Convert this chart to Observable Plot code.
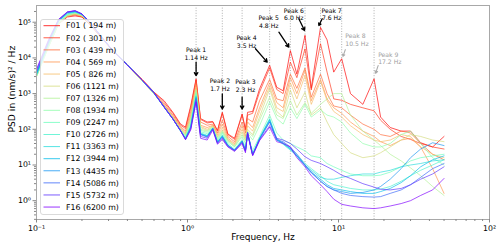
<!DOCTYPE html>
<html><head><meta charset="utf-8">
<script src="https://cdn.jsdelivr.net/npm/d3@7"></script>
<script src="https://cdn.jsdelivr.net/npm/@observablehq/plot@0.6"></script>
<style>
body{margin:0;background:#fff;}
#wrap{position:relative;width:500px;height:248px;font-family:"DejaVu Sans",sans-serif;}
#legend{position:absolute;left:40px;top:19px;}
</style>
</head><body><div id="wrap"></div>
<script>
// ---------- data ----------
const freq = [0.1, 0.12, 0.14, 0.16, 0.18, 0.2, 0.23, 0.27, 0.32, 0.4, 0.5, 0.6, 0.7, 0.8, 0.9, 0.97, 1.05,
  1.14, 1.22, 1.35, 1.47, 1.58, 1.7, 1.85, 2.05, 2.3, 2.42, 2.5, 2.7, 3.0,
  3.5, 3.9, 4.3, 4.8, 5.3, 6.0, 6.6, 7.6, 8.4, 9.3, 10.5,
  12, 14.5, 17.2, 19, 22, 26, 30, 35, 42, 50];

const stations = ["F01","F02","F03","F04","F05","F06","F07","F08","F09","F10","F11","F12","F13","F14","F15","F16"];
const distances = [194, 301, 439, 569, 826, 1121, 1326, 1934, 2247, 2726, 3363, 3944, 4435, 5086, 5732, 6200];

const F01 = [3.5e3, 2.2e4, 8.9e4, 1.4e5, 1.5e5, 1.4e5, 7.9e4, 3.6e4, 1.6e4, 6.3e3, 2.5e3, 1.1e3, 630, 300, 140, 115, 450,
  2.6e3, 200, 160, 165, 93, 300, 74, 56, 270, 100, 300, 316, 1.35e3,
  6.2e3, 1.5e3, 1.2e3, 1.6e4, 3.5e3, 4.3e4, 1.4e3, 7.2e4, 3.2e4, 4.0e3, 9.5e3,
  1.0e3, 500, 2.6e3, 220, 112, 89, 89, 42, 32, 63];
const F02 = [3.5e3, 2.4e4, 9.5e4, 1.45e5, 1.6e5, 1.4e5, 7.9e4, 3.6e4, 1.6e4, 6.3e3, 2.5e3, 1.1e3, 560, 280, 130, 105, 400,
  2.4e3, 190, 150, 160, 89, 280, 71, 52, 250, 95, 250, 280, 1.1e3,
  5.2e3, 1.3e3, 1.0e3, 7.6e3, 2.8e3, 1.8e4, 1.26e3, 2.5e4, 4.0e3, 710, 650,
  500, 400, 330, 180, 100, 63, 52, 40, 32, 28];
const F03 = [3.3e3, 2.2e4, 9.3e4, 1.5e5, 1.65e5, 1.45e5, 8.3e4, 3.7e4, 1.6e4, 6.2e3, 2.4e3, 1.05e3, 500, 250, 120, 89, 316,
  2.0e3, 160, 130, 140, 79, 180, 63, 45, 160, 79, 200, 160, 630,
  2.5e3, 710, 630, 3.5e3, 1.4e3, 5.2e3, 790, 3.5e3, 1.0e3, 450, 400,
  250, 140, 100, 71, 63, 89, 79, 40, 20, 14];
const F04 = [3.2e3, 2.1e4, 9.1e4, 1.5e5, 1.7e5, 1.5e5, 8.5e4, 3.8e4, 1.6e4, 6.2e3, 2.3e3, 1.0e3, 470, 230, 110, 79, 250,
  1.7e3, 130, 112, 130, 71, 140, 56, 40, 126, 63, 160, 112, 400,
  2.0e3, 560, 400, 2.8e3, 1.0e3, 4.5e3, 630, 2.5e3, 710, 400, 280,
  160, 89, 63, 45, 35, 50, 56, 32, 7.9, 1.6];
const F05 = [3.2e3, 2.1e4, 9.1e4, 1.5e5, 1.7e5, 1.5e5, 8.5e4, 3.8e4, 1.6e4, 6.2e3, 2.3e3, 1.0e3, 460, 220, 105, 74, 220,
  1.5e3, 120, 100, 126, 63, 112, 52, 37, 100, 56, 126, 89, 316,
  1.6e3, 400, 316, 2.0e3, 710, 3.2e3, 500, 2.2e3, 630, 316, 220,
  126, 71, 50, 45, 50, 71, 63, 32, 20, 16];
const F06 = [3.0e3, 2.0e4, 8.9e4, 1.5e5, 1.7e5, 1.5e5, 8.5e4, 3.8e4, 1.6e4, 6.3e3, 2.3e3, 1.0e3, 450, 210, 100, 71, 200,
  1.3e3, 112, 93, 120, 60, 95, 50, 35, 83, 50, 100, 71, 220,
  1.35e3, 316, 220, 1.26e3, 400, 1.1e3, 250, 400, 160, 71, 40,
  22, 16, 18, 22, 32, 50, 71, 63, 50, 45];
const F07 = [3.0e3, 2.0e4, 8.9e4, 1.55e5, 1.8e5, 1.55e5, 8.7e4, 3.8e4, 1.6e4, 6.3e3, 2.3e3, 1.0e3, 440, 210, 98, 68, 180,
  1.26e3, 100, 89, 115, 56, 89, 48, 33, 71, 48, 89, 63, 180,
  790, 250, 200, 630, 250, 560, 280, 500, 710, 1.0e3, 1.0e3,
  250, 89, 50, 35, 20, 13, 8.3, 5.0, 2.5, 1.4];
const F08 = [3.0e3, 2.0e4, 9.1e4, 1.6e5, 1.8e5, 1.6e5, 8.9e4, 3.9e4, 1.6e4, 6.3e3, 2.3e3, 1.0e3, 430, 200, 95, 65, 160,
  1.1e3, 93, 83, 112, 52, 83, 45, 32, 63, 40, 79, 50, 126,
  580, 200, 140, 400, 200, 500, 220, 350, 250, 220, 160,
  79, 40, 32, 32, 40, 71, 89, 40, 16, 10];
const F09 = [3.2e3, 2.2e4, 1.0e5, 1.65e5, 1.9e5, 1.6e5, 8.9e4, 3.9e4, 1.6e4, 6.3e3, 2.4e3, 1.0e3, 420, 200, 93, 60, 140,
  1.0e3, 85, 76, 107, 48, 76, 40, 28, 52, 32, 71, 25, 63,
  250, 79, 50, 40, 32, 25, 18, 16, 11, 8.9, 7.1,
  5.6, 5.0, 5.0, 5.2, 6.3, 8.9, 13, 16, 18, 20];
const F10 = [3.3e3, 2.4e4, 1.05e5, 1.7e5, 1.9e5, 1.65e5, 8.9e4, 3.8e4, 1.6e4, 6.3e3, 2.4e3, 1.05e3, 420, 195, 91, 56, 126,
  890, 79, 68, 105, 45, 68, 37, 26, 48, 26, 71, 20, 56,
  200, 56, 40, 28, 20, 11, 7.9, 5.0, 3.5, 2.8, 2.5,
  2.2, 2.0, 2.0, 2.1, 2.5, 3.5, 5.0, 7.1, 10, 14];
const F11 = [3.4e3, 2.5e4, 1.07e5, 1.8e5, 1.95e5, 1.65e5, 9.1e4, 3.8e4, 1.6e4, 6.3e3, 2.4e3, 1.05e3, 420, 195, 89, 55, 120,
  850, 76, 66, 105, 44, 66, 36, 26, 47, 26, 76, 20, 56,
  190, 52, 38, 26, 18, 10, 7.1, 4.5, 4.0, 4.0, 4.5,
  5.0, 5.6, 5.6, 6.3, 7.1, 8.9, 10, 11, 13, 14];
const F12 = [3.5e3, 2.6e4, 1.1e5, 1.8e5, 2.0e5, 1.7e5, 9.1e4, 3.8e4, 1.6e4, 6.3e3, 2.4e3, 1.05e3, 420, 195, 91, 55, 115,
  790, 74, 63, 105, 44, 63, 35, 26, 46, 25, 79, 20, 55,
  180, 50, 40, 28, 18, 10, 6.3, 4.0, 2.8, 2.2, 2.0,
  1.8, 1.6, 1.6, 1.8, 2.2, 3.2, 5.0, 8.9, 14, 18];
const F13 = [3.7e3, 2.75e4, 1.1e5, 1.9e5, 2.0e5, 1.7e5, 9.1e4, 3.8e4, 1.6e4, 6.3e3, 2.4e3, 1.05e3, 420, 195, 91, 54, 112,
  760, 72, 63, 105, 43, 63, 35, 26, 45, 25, 83, 19, 54,
  166, 50, 42, 30, 18, 9.5, 6.0, 3.5, 2.5, 2.0, 1.8,
  1.6, 1.7, 2.0, 2.5, 4.0, 7.9, 16, 28, 42, 35];
const F14 = [4.0e3, 2.9e4, 1.15e5, 1.9e5, 2.1e5, 1.7e5, 9.1e4, 3.8e4, 1.6e4, 6.3e3, 2.4e3, 1.05e3, 420, 195, 91, 52, 107,
  710, 71, 60, 105, 42, 60, 35, 26, 46, 25, 83, 19, 52,
  160, 52, 45, 32, 20, 10, 6.3, 3.5, 2.5, 2.0, 1.6,
  1.4, 1.3, 1.26, 1.3, 1.6, 2.0, 2.8, 4.5, 7.9, 11];
const F15 = [4.5e3, 3.0e4, 1.2e5, 1.9e5, 2.1e5, 1.7e5, 9.1e4, 3.8e4, 1.6e4, 6.3e3, 2.4e3, 1.05e3, 420, 195, 91, 52, 100,
  630, 63, 56, 100, 40, 56, 33, 25, 42, 24, 79, 19, 50,
  126, 56, 50, 40, 28, 17, 13.5, 11, 8.9, 7.1, 5.2,
  4.2, 3.0, 2.4, 2.1, 2.0, 2.2, 2.8, 4.0, 5.6, 8.9];
const F16 = [4.8e3, 3.2e4, 1.2e5, 1.95e5, 2.1e5, 1.7e5, 9.1e4, 3.8e4, 1.6e4, 6.3e3, 2.4e3, 1.05e3, 420, 195, 91, 51, 95,
  580, 56, 50, 95, 38, 52, 32, 24, 40, 22, 76, 18, 48,
  115, 45, 40, 32, 16, 8.9, 5.0, 2.8, 1.8, 1.1, 0.79,
  0.71, 0.63, 0.6, 0.63, 0.71, 0.83, 1.0, 1.4, 2.0, 4.2];

const psd = [F01, F02, F03, F04, F05, F06, F07, F08, F09, F10, F11, F12, F13, F14, F15, F16];
const colors = ["#ff0000","#ff351b","#ff6835","#ff964f","#f6bd68","#d4dc7f","#b2f296","#90feab",
  "#6efebd","#4cf2ce","#2adcdc","#08bde9","#1a96f2","#3b68f9","#5d35fe","#8000ff"];

// peak annotations
const peakFreqs = [1.14, 1.7, 2.3, 3.5, 4.8, 6.0, 7.6, 10.5, 17.2];
const peakNames = ["Peak 1","Peak 2","Peak 3","Peak 4","Peak 5","Peak 6","Peak 7","Peak 8","Peak 9"];
const peakTexts = ["1.14 Hz","1.7 Hz","2.3 Hz","3.5 Hz","4.8 Hz","6.0 Hz","7.6 Hz","10.5 Hz","17.2 Hz"];
// annotation layout (data coordinates): label position and arrow from/to
const labelAt = [[1.14,1.33e4],[1.64,1.8e3],[2.42,1.68e3],[2.46,2.9e4],[3.45,1.05e5],[5.06,1.7e5],[9.0,1.7e5],[11.1,3.3e4],[18.3,1.0e4]];
const arrowFrom = [[1.14,7.6e3],[1.7,980],[2.3,790],[2.82,1.8e4],[4.03,5.25e4],[5.46,1.25e5],[7.8,1.25e5],[11.1,1.7e4],[18.3,6.1e3]];
const arrowTo = [[1.14,3.2e3],[1.7,370],[2.3,370],[3.37,7.6e3],[4.69,2.0e4],[5.96,5.85e4],[7.41,8.1e4],[10.7,1.1e4],[17.6,3.7e3]];
const labelGray = [false,false,false,false,false,false,false,true,true];

// tick labels
const xMajor = [0.1, 1, 10, 100];
const yMajor = [1, 10, 100, 1e3, 1e4, 1e5];
const supers = {"-":"⁻","0":"⁰","1":"¹","2":"²","3":"³","4":"⁴","5":"⁵"};
const decadeLabel = d => "10" + String(Math.round(Math.log10(d))).split("").map(c => supers[c]).join("");

// ---------- build ----------
const rows = stations.flatMap((s, i) => freq.map((f, j) => ({station: s, f, v: psd[i][j]})));
const minorOf = (lo, hi) => { const out = []; for (let e = lo; e < hi; e++) for (let k = 2; k <= 9; k++) out.push(k * Math.pow(10, e)); return out; };
const xMinor = minorOf(-1, 2);
const yMinor = minorOf(-1, 6).filter(v => v >= 0.297 && v <= 2.94e5);

const ann = peakFreqs.map((f, i) => ({
  lx: labelAt[i][0], ly: labelAt[i][1], text: peakNames[i] + "\n" + peakTexts[i],
  x1: arrowFrom[i][0], y1: arrowFrom[i][1], x2: arrowTo[i][0], y2: arrowTo[i][1], gray: labelGray[i]
}));
const annBlack = ann.filter(d => !d.gray), annGray = ann.filter(d => d.gray);

const chart = Plot.plot({
  width: 500, height: 248,
  marginLeft: 36, marginRight: 11, marginTop: 5, marginBottom: 29,
  x: {type: "log", domain: [0.1, 100]},
  y: {type: "log", domain: [0.297, 2.94e5]},
  color: {domain: stations, range: colors},
  style: {fontFamily: "DejaVu Sans, sans-serif", fontSize: "7.8px", background: "white", color: "black"},
  marks: [
    Plot.ruleX(peakFreqs, {stroke: "#9a9a9a", strokeDasharray: "1,1.6", strokeWidth: 0.8}),
    Plot.line(rows, {x: "f", y: "v", z: "station", stroke: "station", strokeWidth: 0.85, strokeOpacity: 0.8}),
    Plot.frame({stroke: "#a8a8a8"}),
    Plot.axisX({ticks: xMinor, tickSize: 2, tickFormat: () => "", label: null, stroke: "#888"}),
    Plot.axisX({ticks: xMajor, tickSize: 3.5, tickFormat: decadeLabel, label: null, stroke: "#888", tickPadding: 2, fontSize: 7.8}),
    Plot.axisY({ticks: yMinor, tickSize: 2, tickFormat: () => "", label: null, stroke: "#888"}),
    Plot.axisY({ticks: yMajor, tickSize: 3.5, tickFormat: decadeLabel, label: null, stroke: "#888", tickPadding: 2, fontSize: 7.8}),
    Plot.text(["Frequency, Hz"], {frameAnchor: "bottom", dy: 18, fontSize: 9, lineAnchor: "middle"}),
    Plot.text(["PSD in (nm/s)² / Hz"], {frameAnchor: "left", rotate: -90, dx: -24, dy: 20, fontSize: 9.2, lineAnchor: "middle"}),
    Plot.arrow(annBlack, {x1: "x1", y1: "y1", x2: "x2", y2: "y2", stroke: "black", strokeWidth: 1.3, headLength: 4}),
    Plot.arrow(annGray, {x1: "x1", y1: "y1", x2: "x2", y2: "y2", stroke: "#aaa", strokeWidth: 1.1, headLength: 4}),
    Plot.text(annBlack, {x: "lx", y: "ly", text: "text", fontSize: 6.1, lineHeight: 1.25, fill: "black", textAnchor: "middle"}),
    Plot.text(annGray, {x: "lx", y: "ly", text: "text", fontSize: 6.1, lineHeight: 1.25, fill: "#a0a0a0", textAnchor: "start"})
  ]
});

const wrap = document.getElementById("wrap");
wrap.appendChild(chart);

// legend (overlay), colours from the chart's color scale
const colorScale = chart.scale("color");
const rowH = 12.09;
const lg = d3.select(wrap).append("svg").attr("id", "legend").attr("width", 85).attr("height", 197);
lg.append("rect").attr("x", 0.5).attr("y", 0.5).attr("width", 83).attr("height", 195).attr("rx", 2.5)
  .attr("fill", "white").attr("fill-opacity", 0.8).attr("stroke", "#d0d0d0").attr("stroke-width", 0.8);
stations.forEach((s, i) => {
  const y = 6.7 + i * rowH;
  const c = colorScale.range[colorScale.domain.indexOf(s)];
  lg.append("line").attr("x1", 3.5).attr("x2", 20).attr("y1", y).attr("y2", y)
    .attr("stroke", c).attr("stroke-width", 1).attr("stroke-opacity", 0.8);
  lg.append("text").attr("x", 26).attr("y", y).attr("dy", "0.35em")
    .attr("font-family", "DejaVu Sans, sans-serif").attr("font-size", 7.8).attr("xml:space", "preserve")
    .style("white-space", "pre")
    .text(`${s} (${String(distances[i]).padStart(4, " ")} m)`);
});
</script>
</body></html>
